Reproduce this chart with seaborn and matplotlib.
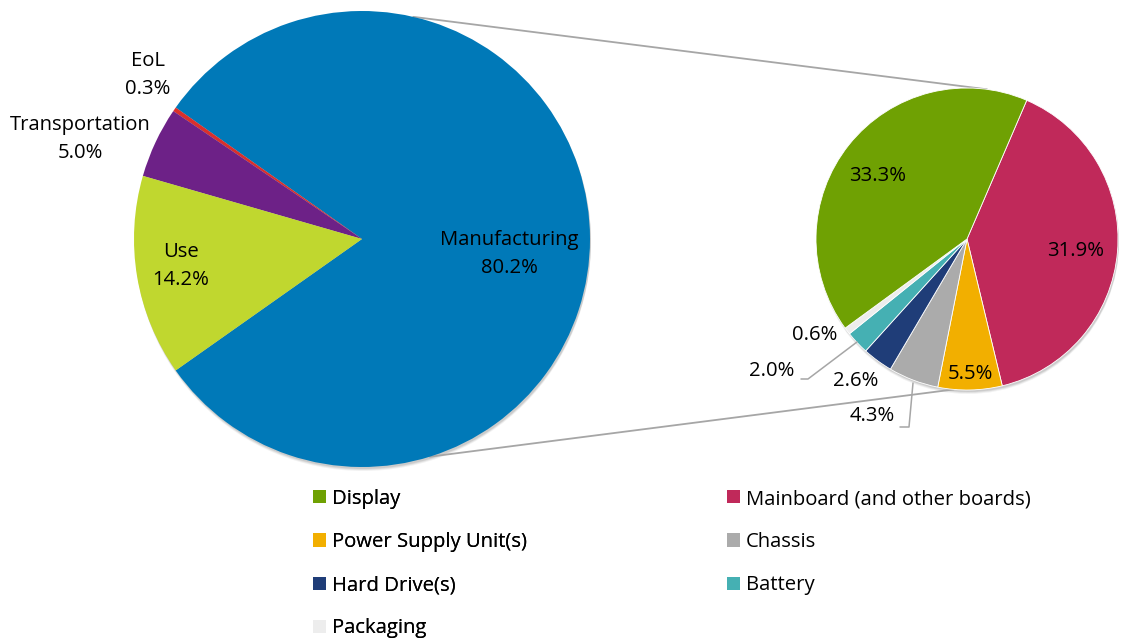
import numpy as np
import matplotlib
matplotlib.use("Agg")
import matplotlib.pyplot as plt
import seaborn as sns
from matplotlib.patches import Patch, Circle

sns.set_theme(style="white")
plt.rcParams['font.family'] = ['Open Sans', 'DejaVu Sans']

# ---- data ----
main_labels = ["Manufacturing", "EoL", "Transportation", "Use"]
main_values = [80.2, 0.3, 5.0, 14.2]
main_colors = ["#0079B8", "#D9302C", "#6D2187", "#C0D72F"]

sub_labels = ["Mainboard (and other boards)", "Power Supply Unit(s)", "Chassis",
              "Hard Drive(s)", "Battery", "Packaging", "Display"]
sub_values = [31.9, 5.5, 4.3, 2.6, 2.0, 0.6, 33.3]
sub_colors = ["#C0295A", "#F2AF00", "#ABABAB", "#1F3D78", "#45B0B3", "#EDEDED", "#6FA103"]

legend_order = ["Display", "Power Supply Unit(s)", "Hard Drive(s)", "Packaging",
                "Mainboard (and other boards)", "Chassis", "Battery"]

W, H = 1123, 639
fig = plt.figure(figsize=(W / 100, H / 100), dpi=100)
ax = fig.add_axes([0, 0, 1, 1])

def P(x, y):
    return x, H - y

c1, r1 = P(362, 239), 228
c2, r2 = P(967, 239), 151

# soft shadows
for c, r in [(c1, r1), (c2, r2)]:
    for k, a in [(4, 0.05), (3, 0.07), (2, 0.09)]:
        ax.add_patch(Circle((c[0] + 1, c[1] - k), r, color="#000000", alpha=a, lw=0, zorder=0))

main_total = sum(main_values)
start1 = -main_values[0] / main_total * 360 / 2
ax.pie(main_values, colors=main_colors, center=c1, radius=r1, startangle=start1,
       counterclock=True, wedgeprops=dict(linewidth=0, zorder=1), frame=False)
ax.pie(sub_values, colors=sub_colors, center=c2, radius=r2, startangle=66.7,
       counterclock=False, wedgeprops=dict(linewidth=0.6, edgecolor="white", zorder=1), frame=False)
ax.set_xlim(0, W)
ax.set_ylim(0, H)
ax.set_aspect("equal")
ax.axis("off")

# connector lines between pies
def on_circle(c, r, ang):
    a = np.deg2rad(ang)
    return c[0] + r * np.cos(a), c[1] + r * np.sin(a)

gray = "#A6A6A6"
for a1, a2 in [(77, 82.4), (-72.7, -95)]:
    p1 = on_circle(c1, r1, a1)
    p2 = on_circle(c2, r2, a2)
    ax.plot([p1[0], p2[0]], [p1[1], p2[1]], color=gray, lw=1.3, zorder=0.5)

fs = 14.6
txt = dict(ha="center", va="center", fontsize=fs, color="#000000", linespacing=1.48, zorder=3)
main_label_pos = [(509, 254), (148, 75), (80, 139), (181, 266)]
for lab, v, (x, y) in zip(main_labels, main_values, main_label_pos):
    ax.text(*P(x, y), f"{lab}\n{v:.1f}%", **txt)

sub_label_pos = [(1076, 251), (970, 374), (872, 416), (856, 381), (772, 371), (815, 335), (878, 176)]
for v, (x, y) in zip(sub_values, sub_label_pos):
    ax.text(*P(x, y), f"{v:.1f}%", **txt)

# leader lines
for pts in [[(801, 379), (808, 379), (857, 342)], [(900, 427), (909, 427), (913, 383)]]:
    xs, ys = zip(*[P(x, y) for x, y in pts])
    ax.plot(xs, ys, color=gray, lw=1.1, zorder=2)

color_of = dict(zip(sub_labels, sub_colors))
handles = [Patch(facecolor=color_of[l], edgecolor="none", label=l) for l in legend_order]
leg_kw = dict(frameon=False, fontsize=fs, handlelength=0.62, handleheight=0.62,
              handletextpad=0.32, labelspacing=1.14, loc="upper left", borderaxespad=0,
              borderpad=0, labelcolor="#000000")
leg1 = fig.legend(handles=handles[:4], bbox_to_anchor=(313 / W, 1 - 489 / H), **leg_kw)
fig.add_artist(leg1)
fig.legend(handles=handles[4:], bbox_to_anchor=(727 / W, 1 - 489 / H), **leg_kw)

fig.savefig("out.png", dpi=100)
